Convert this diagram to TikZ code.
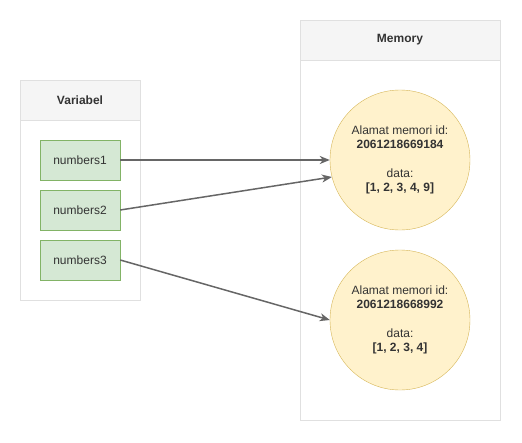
\documentclass[tikz,border=0pt]{standalone}
\usepackage{fontspec}
\setmainfont{Liberation Sans}
\usetikzlibrary{arrows.meta}
\definecolor{lanegray}{HTML}{E0E0E0}
\definecolor{headgray}{HTML}{F5F5F5}
\definecolor{txtgray}{HTML}{333333}
\definecolor{varfill}{HTML}{D5E8D4}
\definecolor{varline}{HTML}{82B366}
\definecolor{memfill}{HTML}{FFF2CC}
\definecolor{memline}{HTML}{D6B656}
\definecolor{arrgray}{HTML}{666666}
\newcommand{\memtext}[2]{Alamat memori id:\\\textbf{#1}\\[14pt]data:\\\textbf{#2}}

\begin{document}
\begin{tikzpicture}[x=1pt,y=-1pt,
    font=\fontsize{12}{14.5}\selectfont,
    lane/.style={draw=lanegray, fill=white, inner sep=0pt},
    lanehead/.style={draw=lanegray, fill=headgray, inner sep=0pt, minimum height=40pt,
      text=txtgray, font=\fontsize{12}{14.5}\selectfont\bfseries},
    varbox/.style={draw=varline, fill=varfill, minimum width=80pt, minimum height=40pt,
      inner sep=0pt, text=txtgray},
    memcircle/.style={circle, draw=memline, fill=memfill, minimum size=140pt,
      inner sep=0pt, align=center, text=txtgray},
    ref/.style={draw=arrgray, line width=1.5pt, -{Stealth[length=10pt,width=8pt,inset=3pt]}}]
    \useasboundingbox (0,0) rectangle (522,442);

    % Variabel lane
    \node[lane, minimum width=120pt, minimum height=220pt] (var) at (80,190) {};
    \node[lanehead, minimum width=120pt] (varhead) at (80,100) {Variabel};
    \node[varbox] (num1) at (80,160) {numbers1};
    \node[varbox] (num2) at (80,210) {numbers2};
    \node[varbox] (num3) at (80,260) {numbers3};

    % Memory lane
    \node[lane, minimum width=200pt, minimum height=400pt] (mem) at (400,220) {};
    \node[lanehead, minimum width=200pt] (memhead) at (400,40) {Memory};
    \node[memcircle] (obja) at (400,160) {\memtext{2061218669184}{[1, 2, 3, 4, 9]}};
    \node[memcircle] (objb) at (400,320) {\memtext{2061218668992}{[1, 2, 3, 4]}};

    \draw[ref] (num1.east) -- (obja.west);
    \draw[ref] (num2.east) -- (obja.194);
    \draw[ref] (num3.east) -- (objb.west);
\end{tikzpicture}
\end{document}
